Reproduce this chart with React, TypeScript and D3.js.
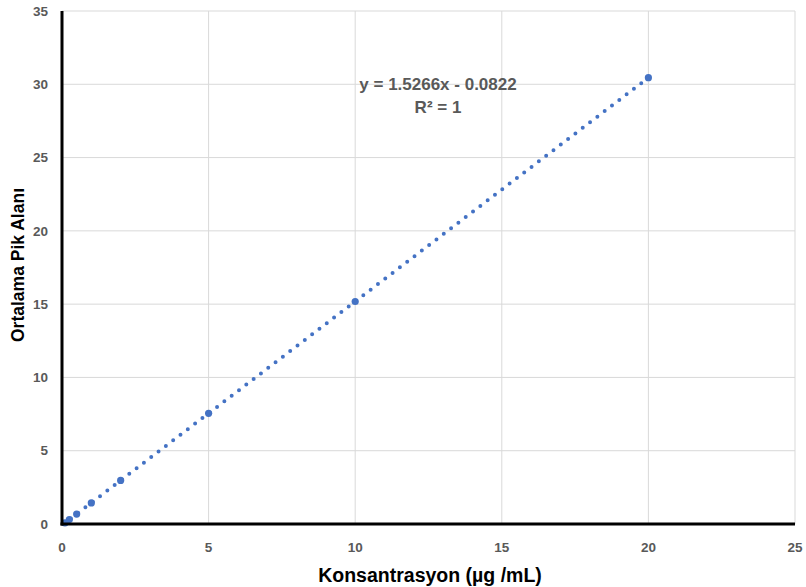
import React from "react";
import * as d3 from "d3";

const concentrations = [0.1, 0.25, 0.5, 1, 2, 5, 10, 20];
const peakAreas = [0.07, 0.3, 0.68, 1.44, 2.97, 7.55, 15.18, 30.45];
const xTicks = [0, 5, 10, 15, 20, 25];
const yTicks = [0, 5, 10, 15, 20, 25, 30, 35];
const slope = 1.5266;
const intercept = -0.0822;
const equationText = "y = 1.5266x - 0.0822";
const r2Text = "R² = 1";
const xTitle = "Konsantrasyon (µg /mL)";
const yTitle = "Ortalama Pik Alanı";

const W = 806;
const H = 587;
const left = 62;
const right = 795;
const top = 11;
const bottom = 524;
const blue = "#4472C4";
const font = "'Liberation Sans', Arial, sans-serif";

export default function App() {
  const x = d3.scaleLinear().domain([0, 25]).range([left, right]);
  const y = d3.scaleLinear().domain([0, 35]).range([bottom, top]);
  const trend = d3
    .line<number>()
    .x((d) => x(d))
    .y((d) => y(slope * d + intercept));
  const trendPath = trend([0.05, 20]) || "";
  return (
    <svg
      width={W}
      height={H}
      style={{ position: "absolute", left: 0, top: 0, background: "#fff" }}
    >
      <rect width={W} height={H} fill="#fff" />
      {xTicks.slice(1).map((t) => (
        <line key={"gx" + t} x1={x(t)} x2={x(t)} y1={top} y2={bottom} stroke="#d9d9d9" strokeWidth={1} />
      ))}
      {yTicks.slice(1).map((t) => (
        <line key={"gy" + t} x1={left} x2={right} y1={y(t)} y2={y(t)} stroke="#d9d9d9" strokeWidth={1} />
      ))}
      <path
        d={trendPath}
        fill="none"
        stroke={blue}
        strokeWidth={4}
        strokeLinecap="round"
        strokeDasharray="0 9.2"
      />
      {concentrations.map((c, i) => (
        <circle key={"p" + i} cx={x(c)} cy={y(peakAreas[i])} r={3.6} fill={blue} />
      ))}
      <line x1={left} x2={left} y1={top} y2={bottom + 1.5} stroke="#000" strokeWidth={3} />
      <line x1={left - 1.5} x2={right} y1={bottom} y2={bottom} stroke="#000" strokeWidth={3} />
      {yTicks.map((t) => (
        <text
          key={"ty" + t}
          x={48}
          y={y(t)}
          dy="0.35em"
          textAnchor="end"
          fontFamily={font}
          fontWeight="bold"
          fontSize={13.5}
          fill="#595959"
        >
          {t}
        </text>
      ))}
      {xTicks.map((t) => (
        <text
          key={"tx" + t}
          x={x(t)}
          y={547}
          dy="0.35em"
          textAnchor="middle"
          fontFamily={font}
          fontWeight="bold"
          fontSize={13.5}
          fill="#595959"
        >
          {t}
        </text>
      ))}
      <text x={438} y={84} dy="0.35em" textAnchor="middle" fontFamily={font} fontWeight="bold" fontSize={17} fill="#595959">
        {equationText}
      </text>
      <text x={438} y={107} dy="0.35em" textAnchor="middle" fontFamily={font} fontWeight="bold" fontSize={17} fill="#595959">
        {r2Text}
      </text>
      <text x={430} y={575} dy="0.35em" textAnchor="middle" fontFamily={font} fontWeight="bold" fontSize={19.5} fill="#000">
        {xTitle}
      </text>
      <text
        transform={`translate(18,265) rotate(-90)`}
        dy="0.35em"
        textAnchor="middle"
        fontFamily={font}
        fontWeight="bold"
        fontSize={17.5}
        fill="#000"
      >
        {yTitle}
      </text>
    </svg>
  );
}
